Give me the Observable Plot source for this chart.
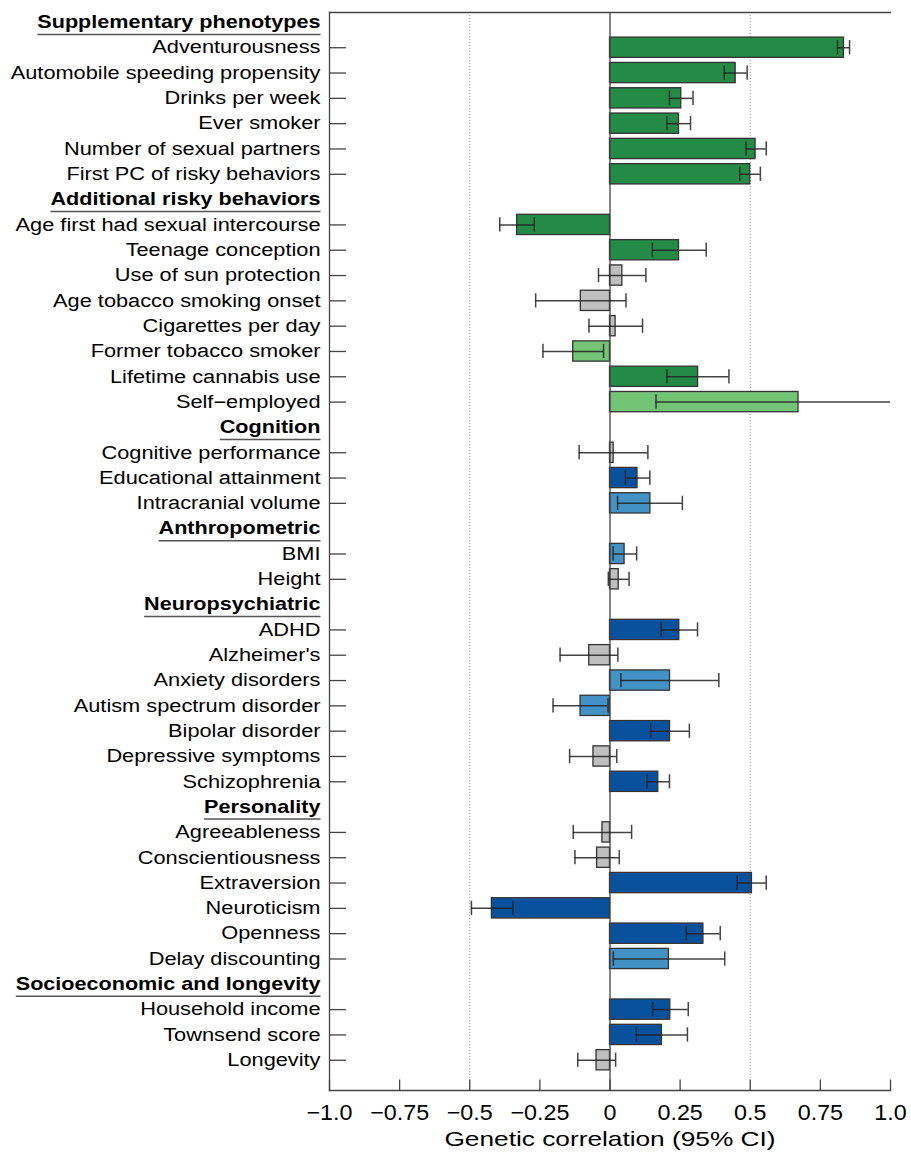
<!DOCTYPE html>
<html><head><meta charset="utf-8">
<script src="https://cdn.jsdelivr.net/npm/d3@7"></script>
<script src="https://cdn.jsdelivr.net/npm/@observablehq/plot@0.6"></script>
<style>html,body{margin:0;padding:0;background:#fff;}</style>
</head><body><div id="chart"></div>
<script>
const rowLabels = [
  "Supplementary phenotypes",
  "Adventurousness","Automobile speeding propensity","Drinks per week","Ever smoker","Number of sexual partners","First PC of risky behaviors",
  "Additional risky behaviors",
  "Age first had sexual intercourse","Teenage conception","Use of sun protection","Age tobacco smoking onset","Cigarettes per day","Former tobacco smoker","Lifetime cannabis use","Self\u2212employed",
  "Cognition",
  "Cognitive performance","Educational attainment","Intracranial volume",
  "Anthropometric",
  "BMI","Height",
  "Neuropsychiatric",
  "ADHD","Alzheimer's","Anxiety disorders","Autism spectrum disorder","Bipolar disorder","Depressive symptoms","Schizophrenia",
  "Personality",
  "Agreeableness","Conscientiousness","Extraversion","Neuroticism","Openness","Delay discounting",
  "Socioeconomic and longevity",
  "Household income","Townsend score","Longevity"
];
const headers = ["Supplementary phenotypes","Additional risky behaviors","Cognition","Anthropometric","Neuropsychiatric","Personality","Socioeconomic and longevity"];
const traits = [
  "Adventurousness","Automobile speeding propensity","Drinks per week","Ever smoker","Number of sexual partners","First PC of risky behaviors",
  "Age first had sexual intercourse","Teenage conception","Use of sun protection","Age tobacco smoking onset","Cigarettes per day","Former tobacco smoker","Lifetime cannabis use","Self\u2212employed",
  "Cognitive performance","Educational attainment","Intracranial volume",
  "BMI","Height",
  "ADHD","Alzheimer's","Anxiety disorders","Autism spectrum disorder","Bipolar disorder","Depressive symptoms","Schizophrenia",
  "Agreeableness","Conscientiousness","Extraversion","Neuroticism","Openness","Delay discounting",
  "Household income","Townsend score","Longevity"
];
const rg = [0.834,0.448,0.254,0.246,0.519,0.500,
  -0.331,0.246,0.044,-0.104,0.020,-0.131,0.314,0.672,
  0.013,0.098,0.144,
  0.052,0.031,
  0.247,-0.074,0.214,-0.105,0.214,-0.059,0.172,
  -0.027,-0.046,0.506,-0.421,0.333,0.210,
  0.215,0.185,-0.048];
const ciLow = [0.811,0.407,0.212,0.203,0.485,0.463,
  -0.393,0.151,-0.041,-0.265,-0.075,-0.239,0.203,0.164,
  -0.110,0.055,0.027,
  0.011,-0.006,
  0.182,-0.178,0.039,-0.203,0.145,-0.144,0.132,
  -0.131,-0.125,0.453,-0.494,0.272,0.012,
  0.152,0.094,-0.115];
const ciHigh = [0.854,0.489,0.296,0.287,0.557,0.536,
  -0.270,0.343,0.128,0.057,0.116,-0.023,0.424,1.0,
  0.135,0.142,0.258,
  0.095,0.068,
  0.312,0.028,0.388,-0.007,0.283,0.024,0.212,
  0.077,0.033,0.557,-0.346,0.393,0.409,
  0.279,0.276,0.020];
const group = ["dg","dg","dg","dg","dg","dg",
  "dg","dg","ns","ns","ns","lg","dg","lg",
  "ns","db","mb",
  "mb","ns",
  "db","ns","mb","mb","db","ns","db",
  "ns","ns","db","db","db","mb",
  "db","db","ns"];
const groupKeys = ["dg","lg","db","mb","ns"];
const groupColors = ["#238b45","#74c476","#08519c","#4292c6","#bfbfbf"];
const xTicks = [-1,-0.75,-0.5,-0.25,0,0.25,0.5,0.75,1];
const xTickLabels = ["\u22121.0","\u22120.75","\u22120.5","\u22120.25","0","0.25","0.5","0.75","1.0"];
const dottedAt = [-0.5, 0.5];
const axisTitle = "Genetic correlation (95% CI)";

const rows = traits.map((t,i)=>({trait:t, rg:rg[i], lo:ciLow[i], hi:ciHigh[i], grp:group[i]}));
const FONT = '"Liberation Sans", Arial, Helvetica, sans-serif';
const lineCol = "#444";
const capOpts = {stroke:"#222", strokeOpacity:0.85, strokeWidth:1.5, insetTop:3, insetBottom:3};

const chart = Plot.plot({
  width: 911, height: 1153,
  marginTop: 12, marginBottom: 63, marginLeft: 329, marginRight: 21,
  style: {fontFamily: FONT, background: "#fff", color: "#000"},
  x: {domain: [-1, 1], axis: null},
  y: {type: "band", domain: rowLabels, range: [9.25, 1072.4], paddingInner: 0.2, paddingOuter: 0.1, round: false, axis: null},
  color: {type: "ordinal", domain: groupKeys, range: groupColors},
  marks: [
    Plot.ruleX(dottedAt, {stroke: "#999", strokeWidth: 1, strokeDasharray: "1,2"}),
    Plot.barX(rows, {y: "trait", x1: 0, x2: "rg", fill: "grp", stroke: "#333", strokeWidth: 1.3}),
    Plot.ruleX([0], {stroke: lineCol, strokeWidth: 1.3}),
    Plot.ruleY(rows, {y: "trait", x1: "lo", x2: "hi", stroke: "#222", strokeOpacity: 0.85, strokeWidth: 1.5}),
    Plot.tickX(rows, {y: "trait", x: "lo", ...capOpts}),
    Plot.tickX(rows.filter(d => d.hi < 1), {y: "trait", x: "hi", ...capOpts}),
    Plot.frame({anchor: "top", stroke: lineCol, strokeWidth: 1.3}),
    Plot.frame({anchor: "left", stroke: lineCol, strokeWidth: 1.3}),
    Plot.frame({anchor: "bottom", stroke: lineCol, strokeWidth: 1.3}),
    Plot.axisY(traits, {tickSize: -17, tickFormat: () => "", label: null, stroke: lineCol, strokeWidth: 1.3}),
    Plot.axisY(traits, {tickSize: 0, tickPadding: 9, fontSize: 18, label: null, fill: "#000", className: "ylab"}),
    Plot.axisY(headers, {tickSize: 0, tickPadding: 9, fontSize: 18, fontWeight: "bold", label: null, fill: "#000", className: "yhdr"}),
    Plot.axisX(xTicks, {tickSize: -10.5, tickFormat: () => "", label: null, stroke: lineCol, strokeWidth: 1.3}),
    Plot.axisX(xTicks, {tickSize: 0, tickPadding: 14, fontSize: 22, label: null, fill: "#000", className: "xlab",
      tickFormat: d => xTickLabels[xTicks.indexOf(d)]}),
    Plot.text([axisTitle], {text: d => d, frameAnchor: "bottom", lineAnchor: "top", dy: 41, fontSize: 21, fill: "#000", className: "xtitle"})
  ]
});
document.getElementById("chart").appendChild(chart);

// horizontal stretch of text about its own anchor point (text positioned by transform)
function stretch(sel, s) {
  chart.querySelectorAll(sel).forEach(t => {
    const tr = t.getAttribute("transform") || "";
    t.setAttribute("transform", `${tr} scale(${s},1)`);
  });
}
stretch("g.ylab text", 1.21);
stretch("g.yhdr text", 1.2);
stretch("g.xlab text", 1.06);
stretch("g.xtitle text", 1.25);

chart.querySelectorAll("g.yhdr text").forEach(t => {
  const bb = t.getBBox();
  const ln = document.createElementNS("http://www.w3.org/2000/svg", "line");
  ln.setAttribute("transform", t.getAttribute("transform") || "");
  ln.setAttribute("x1", bb.x);
  ln.setAttribute("x2", bb.x + bb.width);
  ln.setAttribute("y1", 12);
  ln.setAttribute("y2", 12);
  ln.setAttribute("stroke", "#555");
  ln.setAttribute("stroke-width", 1.5);
  t.parentNode.appendChild(ln);
});
</script>
</body></html>
